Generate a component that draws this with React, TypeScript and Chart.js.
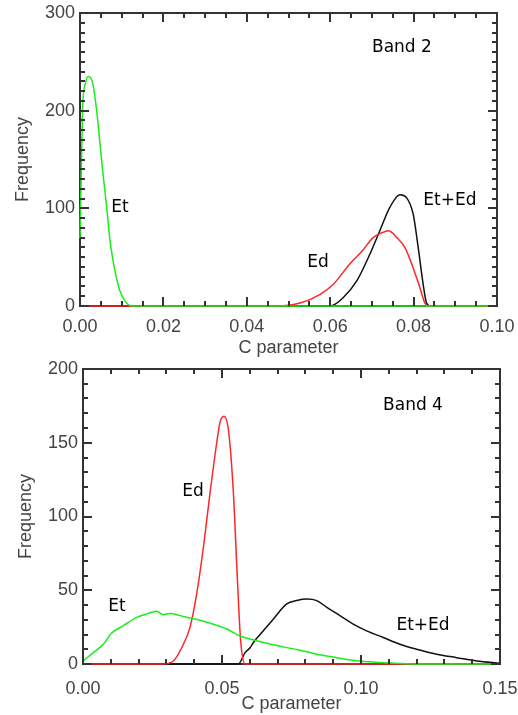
import React, { useEffect, useRef } from 'react';
import { Chart, registerables } from 'chart.js';

Chart.register(...registerables);

// ---------- Band 2 data ----------
const b2EtX = [0, 0.0006, 0.0013, 0.002, 0.003, 0.004, 0.0048, 0.0056, 0.0064, 0.0072, 0.0084, 0.0096, 0.0108, 0.0124, 0.014, 0.1];
const b2EtY = [69, 200, 228, 235, 229, 200, 166, 132, 101, 67, 36, 15, 5, 0, 0, 0];

const b2EdX = [0, 0.047, 0.0528, 0.0576, 0.0607, 0.0647, 0.0676, 0.0703, 0.0724, 0.074, 0.076, 0.0779, 0.0799, 0.0815, 0.0827, 0.0835, 0.1];
const b2EdY = [0, 0, 3, 12, 22, 43, 56, 70, 75, 77, 70, 60, 39, 19, 3, 0, 0];

const b2SumX = [0, 0.06, 0.0631, 0.0664, 0.0695, 0.0719, 0.0743, 0.0767, 0.0783, 0.0799, 0.0811, 0.0823, 0.0831, 0.084, 0.1];
const b2SumY = [0, 0, 8.5, 26, 53, 77, 101, 114, 111, 94, 60, 22, 3, 0, 0];

const b2XTicks = [0, 0.02, 0.04, 0.06, 0.08, 0.1];
const b2YTicks = [0, 100, 200, 300];

// ---------- Band 4 data ----------
const b4EtX = [0, 0.0037, 0.0073, 0.0103, 0.0145, 0.0193, 0.0229, 0.0265, 0.0289, 0.0313, 0.0349, 0.0385, 0.0433, 0.0469, 0.0517, 0.0565, 0.0601, 0.0649, 0.0721, 0.0781, 0.0841, 0.0913, 0.0996, 0.108, 0.1224, 0.15];
const b4EtY = [2, 7.7, 13.4, 21, 26, 31.6, 34, 35.7, 33.4, 34.3, 32.8, 31.2, 29, 27, 23.7, 19, 17, 14.6, 11.6, 9.3, 6.6, 4.3, 2, 0.9, 0, 0];

const b4EdX = [0, 0.0289, 0.0325, 0.0355, 0.0385, 0.0409, 0.0433, 0.0457, 0.0481, 0.0493, 0.0507, 0.0523, 0.0541, 0.0555, 0.0567, 0.0583, 0.15];
const b4EdY = [0, 0, 2, 11, 25, 47.6, 79, 116, 150, 164, 168, 159, 116, 59, 16, 0, 0];

const b4SumX = [0, 0.0559, 0.0583, 0.0601, 0.0613, 0.0637, 0.0685, 0.0733, 0.0769, 0.0805, 0.0841, 0.0877, 0.0924, 0.0972, 0.102, 0.108, 0.114, 0.12, 0.1272, 0.1344, 0.1416, 0.15];
const b4SumY = [0, 0, 7.7, 11, 14.6, 20, 30.5, 40.7, 43, 44, 43, 38.4, 32.8, 27, 22.5, 18, 13.4, 10, 6.6, 4.3, 2, 0.5];

const b4XTicks = [0, 0.05, 0.1, 0.15];
const b4YTicks = [0, 50, 100, 150, 200];

// annotation labels (data coordinates)
const b2Labels = [
  { text: 'Band 2', x: 0.0772, y: 265 },
  { text: 'Et', x: 0.0096, y: 101 },
  { text: 'Ed', x: 0.0571, y: 44 },
  { text: 'Et+Ed', x: 0.0887, y: 108 },
];
const b4Labels = [
  { text: 'Band 4', x: 0.1187, y: 175 },
  { text: 'Ed', x: 0.0396, y: 117 },
  { text: 'Et', x: 0.0122, y: 39 },
  { text: 'Et+Ed', x: 0.1223, y: 26 },
];

const GREEN = '#19ee19';
const RED = '#ff2626';
const BLACK = '#111111';
const AXIS = '#333333';
const TICK_FONT = { family: '"Liberation Sans", Arial, sans-serif', size: 18 };
const TITLE_FONT = { family: '"Liberation Sans", Arial, sans-serif', size: 18 };

type Lbl = { text: string; x: number; y: number };
type Spec = {
  top: number;
  height: number;
  plotLeft: number;
  plotRight: number;
  plotTop: number;
  plotBottom: number;
  xMin: number;
  xMax: number;
  yMin: number;
  yMax: number;
  xTicks: number[];
  yTicks: number[];
  xMinorCount: number;
  yMinorCount: number;
  xDigits: number;
  series: { xs: number[]; ys: number[]; color: string }[];
  labels: Lbl[];
  tickPad: number;
  xTitlePad: number;
  yTitlePad: number;
};

const W = 2; // frame / tick thickness

function drawTicks(chart: any, spec: Spec) {
  const ctx: CanvasRenderingContext2D = chart.ctx;
  const a = chart.chartArea;
  const xs = chart.scales.x;
  const ys = chart.scales.y;
  const L = Math.round(a.left);
  const R = Math.round(a.right);
  const T = Math.round(a.top);
  const B = Math.round(a.bottom);
  ctx.save();
  ctx.fillStyle = AXIS;
  const majorLen = 9;
  const minorLen = 5;
  const xt = spec.xTicks;
  for (let k = 0; k < xt.length; k++) {
    const pMaj = Math.round(xs.getPixelForValue(xt[k]));
    ctx.fillRect(pMaj - 1, B - majorLen, W, majorLen);
    ctx.fillRect(pMaj - 1, T, W, majorLen);
    if (k < xt.length - 1) {
      for (let m = 1; m < spec.xMinorCount; m++) {
        const v = xt[k] + ((xt[k + 1] - xt[k]) * m) / spec.xMinorCount;
        const p = Math.round(xs.getPixelForValue(v));
        ctx.fillRect(p - 1, B - minorLen, W, minorLen);
        ctx.fillRect(p - 1, T, W, minorLen);
      }
    }
  }
  const yt = spec.yTicks;
  for (let k = 0; k < yt.length; k++) {
    const pMaj = Math.round(ys.getPixelForValue(yt[k]));
    ctx.fillRect(L, pMaj - 1, majorLen, W);
    ctx.fillRect(R - majorLen, pMaj - 1, majorLen, W);
    if (k < yt.length - 1) {
      for (let m = 1; m < spec.yMinorCount; m++) {
        const v = yt[k] + ((yt[k + 1] - yt[k]) * m) / spec.yMinorCount;
        const p = Math.round(ys.getPixelForValue(v));
        ctx.fillRect(L, p - 1, minorLen, W);
        ctx.fillRect(R - minorLen, p - 1, minorLen, W);
      }
    }
  }
  ctx.restore();
}

function makeAxesPlugin(spec: Spec) {
  return {
    id: 'idlAxes',
    beforeDatasetsDraw(chart: any) {
      const { ctx, chartArea: a } = chart;
      const L = Math.round(a.left);
      const R = Math.round(a.right);
      const T = Math.round(a.top);
      const B = Math.round(a.bottom);
      ctx.save();
      ctx.fillStyle = AXIS;
      ctx.fillRect(L - 1, T - 1, R - L + W, W);
      ctx.fillRect(L - 1, B - 1, R - L + W, W);
      ctx.fillRect(L - 1, T - 1, W, B - T + W);
      ctx.fillRect(R - 1, T - 1, W, B - T + W);
      ctx.restore();
    },
    afterDraw(chart: any) {
      drawTicks(chart, spec);
      const { ctx, scales } = chart;
      ctx.save();
      ctx.fillStyle = '#000';
      ctx.font = '17px "DejaVu Sans", sans-serif';
      ctx.textAlign = 'center';
      ctx.textBaseline = 'middle';
      spec.labels.forEach((l) => {
        ctx.fillText(l.text, scales.x.getPixelForValue(l.x), scales.y.getPixelForValue(l.y));
      });
      ctx.restore();
    },
  };
}

function Panel({ spec }: { spec: Spec }) {
  const ref = useRef<HTMLCanvasElement | null>(null);
  useEffect(() => {
    if (!ref.current) return;
    const xAxisHeight = spec.height - spec.plotBottom;
    const chart = new Chart(ref.current, {
      type: 'line',
      data: {
        datasets: spec.series.map((s) => ({
          data: s.xs.map((xv, i) => ({ x: xv, y: s.ys[i] })),
          borderColor: s.color,
          borderWidth: 1.5,
          pointRadius: 0,
          fill: false,
          clip: false,
          cubicInterpolationMode: 'monotone' as const,
        })),
      },
      options: {
        animation: false,
        responsive: false,
        devicePixelRatio: 1,
        layout: { padding: { top: spec.plotTop, right: 518 - spec.plotRight, left: 0, bottom: 0 } },
        plugins: { legend: { display: false }, tooltip: { enabled: false } },
        scales: {
          x: {
            type: 'linear',
            min: spec.xMin,
            max: spec.xMax,
            afterBuildTicks: (s: any) => {
              s.ticks = spec.xTicks.map((v) => ({ value: v }));
            },
            afterFit: (s: any) => {
              s.height = xAxisHeight;
              s.paddingLeft = 0;
              s.paddingRight = 0;
            },
            grid: { display: false, drawTicks: false },
            border: { display: false },
            ticks: {
              autoSkip: false,
              maxRotation: 0,
              padding: spec.tickPad,
              color: '#444',
              font: TICK_FONT,
              callback: (v: any) => Number(v).toFixed(spec.xDigits),
            },
            title: {
              display: true,
              text: 'C parameter',
              color: '#444',
              font: TITLE_FONT,
              padding: { top: 0, bottom: spec.xTitlePad },
            },
          },
          y: {
            type: 'linear',
            min: spec.yMin,
            max: spec.yMax,
            afterBuildTicks: (s: any) => {
              s.ticks = spec.yTicks.map((v) => ({ value: v }));
            },
            afterFit: (s: any) => {
              s.width = spec.plotLeft;
              s.paddingTop = 0;
              s.paddingBottom = 0;
            },
            grid: { display: false, drawTicks: false },
            border: { display: false },
            ticks: {
              autoSkip: false,
              padding: 5,
              color: '#444',
              font: TICK_FONT,
              callback: (v: any) => String(v),
            },
            title: {
              display: true,
              text: 'Frequency',
              color: '#444',
              font: TITLE_FONT,
              padding: { top: spec.yTitlePad, bottom: 0 },
            },
          },
        },
      },
      plugins: [makeAxesPlugin(spec)],
    } as any);
    return () => chart.destroy();
  }, [spec]);
  return (
    <div style={{ position: 'absolute', left: 0, top: spec.top, width: 518, height: spec.height }}>
      <canvas ref={ref} width={518} height={spec.height} style={{ width: 518, height: spec.height, display: 'block' }} />
    </div>
  );
}

const band2: Spec = {
  top: 0,
  height: 360,
  plotLeft: 80,
  plotRight: 497,
  plotTop: 13,
  plotBottom: 306,
  xMin: 0,
  xMax: 0.1,
  yMin: 0,
  yMax: 300,
  xTicks: b2XTicks,
  yTicks: b2YTicks,
  xMinorCount: 4,
  yMinorCount: 10,
  xDigits: 2,
  series: [
    { xs: b2EtX, ys: b2EtY, color: GREEN },
    { xs: b2EdX, ys: b2EdY, color: RED },
    { xs: b2SumX, ys: b2SumY, color: BLACK },
  ],
  labels: b2Labels,
  tickPad: 10,
  xTitlePad: 1,
  yTitlePad: 12,
};

const band4: Spec = {
  top: 358,
  height: 357,
  plotLeft: 83,
  plotRight: 500,
  plotTop: 11,
  plotBottom: 306,
  xMin: 0,
  xMax: 0.15,
  yMin: 0,
  yMax: 200,
  xTicks: b4XTicks,
  yTicks: b4YTicks,
  xMinorCount: 5,
  yMinorCount: 5,
  xDigits: 2,
  series: [
    { xs: b4EtX, ys: b4EtY, color: GREEN },
    { xs: b4EdX, ys: b4EdY, color: RED },
    { xs: b4SumX, ys: b4SumY, color: BLACK },
  ],
  labels: b4Labels,
  tickPad: 14,
  xTitlePad: 0,
  yTitlePad: 15,
};

export default function App() {
  return (
    <div style={{ position: 'absolute', left: 0, top: 0, width: 518, height: 715, background: '#fff' }}>
      <Panel spec={band2} />
      <Panel spec={band4} />
    </div>
  );
}
